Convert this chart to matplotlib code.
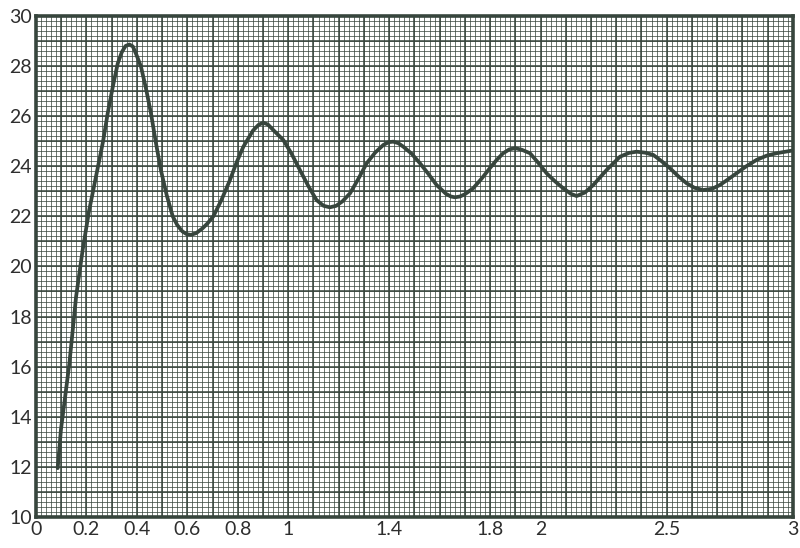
import matplotlib.pyplot as plt
import numpy as np

# curve
x_vals = [0.086, 0.099, 0.132, 0.159, 0.185, 0.21, 0.238, 0.266, 0.284, 0.305, 0.324, 0.340,
          0.355, 0.370, 0.384, 0.398, 0.416, 0.436, 0.456, 0.475, 0.495, 0.518, 0.542, 0.560,
          0.58, 0.597, 0.614, 0.635, 0.66, 0.68,
          0.703, 0.735, 0.769, 0.795, 0.822, 0.86, 0.882, 0.901, 0.92, 0.94, 0.980, 1.013, 1.046, 1.08,
          1.112, 1.14, 1.165, 1.19, 1.215, 1.245, 1.278, 1.311, 1.345, 1.377, 1.398, 1.416, 1.436, 1.456, 1.489, 1.522,
          1.555, 1.588, 1.625, 1.645, 1.661, 1.68, 1.70, 1.733, 1.766, 1.799, 1.826, 1.852, 1.876, 1.899, 1.925, 1.958,
          1.99, 2.024, 2.057, 2.090, 2.12, 2.143, 2.176, 2.209, 2.262, 2.315, 2.35, 2.381, 2.415, 2.447, 2.48,
          2.513, 2.546, 2.579, 2.61, 2.645, 2.68, 2.711, 2.744, 2.777, 2.816, 2.856, 2.896, 2.936, 2.995]
y_vals = [11.95, 13.5, 16.1, 18.8, 20.66, 22.2, 23.6, 25.0, 26.1, 27.2, 28.1, 28.55,
          28.8, 28.86, 28.78, 28.45, 27.98, 27.1, 26.1, 24.95, 23.85, 22.85, 22.0, 21.65,
          21.4, 21.29, 21.26, 21.33, 21.52, 21.72,
          22.0, 22.65, 23.45, 24.15, 24.78, 25.42, 25.65, 25.74, 25.66, 25.45, 25.05, 24.5, 23.85, 23.2,
          22.65, 22.42, 22.36, 22.42, 22.6, 22.92, 23.5, 24.12, 24.55, 24.85, 24.96, 24.98, 24.92, 24.78, 24.5, 24.12,
          23.7, 23.25, 22.9, 22.79, 22.76, 22.79, 22.88, 23.12, 23.5, 23.92, 24.25, 24.52, 24.67, 24.72, 24.66, 24.52,
          24.15, 23.72, 23.4, 23.12, 22.9, 22.81, 22.95, 23.25, 23.85, 24.38, 24.53, 24.58, 24.54, 24.45, 24.2,
          23.92, 23.6, 23.32, 23.14, 23.05, 23.1, 23.25, 23.48, 23.72, 24.0, 24.25, 24.42, 24.52, 24.62]

x_ticks = [0, 0.2, 0.4, 0.6, 0.8, 1, 1.4, 1.8, 2, 2.5, 3]
x_labels = ['0', '0.2', '0.4', '0.6', '0.8', '1', '1.4', '1.8', '2', '2.5', '3']
y_ticks = [10, 12, 14, 16, 18, 20, 22, 24, 26, 28, 30]
y_labels = ['10', '12', '14', '16', '18', '20', '22', '24', '26', '28', '30']

ink = '#37453d'

fig = plt.figure(figsize=(8, 5.48), dpi=100)
ax = fig.add_axes([0.045, 0.0566, 0.946, 0.9144])
ax.set_xlim(0, 3)
ax.set_ylim(10, 30)

# graph paper
ax.vlines(np.arange(0, 3.001, 0.02), 10, 30, color=ink, lw=0.6, alpha=0.85, zorder=1)
ax.hlines(np.arange(10, 30.001, 0.2), 0, 3, color=ink, lw=0.6, alpha=0.85, zorder=1)
ax.vlines(np.arange(0, 3.001, 0.1), 10, 30, color=ink, lw=1.1, zorder=1)
ax.hlines(np.arange(10, 30.001, 1), 0, 3, color=ink, lw=1.1, zorder=1)

ax.plot(x_vals, y_vals, color=ink, lw=2.7, solid_joinstyle='round', solid_capstyle='round', zorder=3)

ax.set_xticks(x_ticks, x_labels)
ax.set_yticks(y_ticks, y_labels)
ax.tick_params(length=0, labelsize=14, labelcolor='#2e2e2e', pad=3)
for lab in ax.get_xticklabels() + ax.get_yticklabels():
    lab.set_family('Lato')

for s in ax.spines.values():
    s.set_linewidth(2.6)
    s.set_color(ink)

fig.savefig('out.png')
